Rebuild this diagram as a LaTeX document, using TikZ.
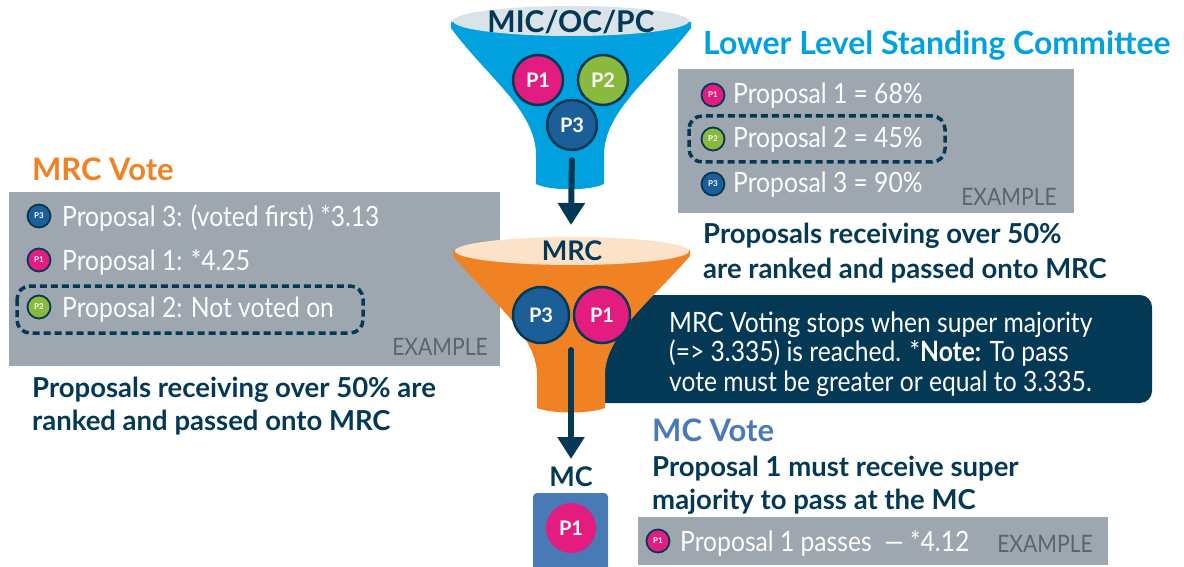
\documentclass[tikz,border=0pt]{standalone}
\usepackage{fontspec}
\setmainfont{Lato}
\newfontfamily\condfont[FakeStretch=0.88]{Lato}
\usetikzlibrary{arrows.meta}

\definecolor{navy}{RGB}{4,57,86}
\definecolor{skyblue}{RGB}{0,161,222}
\definecolor{rimgray}{RGB}{218,227,233}
\definecolor{funorange}{RGB}{240,130,36}
\definecolor{peach}{RGB}{253,226,202}
\definecolor{pmagenta}{RGB}{227,28,127}
\definecolor{pgreen}{RGB}{137,186,62}
\definecolor{pblue}{RGB}{27,94,152}
\definecolor{boxgray}{RGB}{158,166,175}
\definecolor{exgray}{RGB}{92,100,110}
\definecolor{steel}{RGB}{72,122,182}

\begin{document}
\begin{tikzpicture}[x=1pt,y=-1pt,
  pbig/.style={circle,draw=navy,line width=2.5pt,minimum size=50pt,inner sep=0pt,text=white,font=\fontsize{20}{20}\selectfont\bfseries},
  picon/.style={circle,draw=navy,line width=1.8pt,minimum size=23pt,inner sep=0pt,text=white,font=\fontsize{8}{8}\selectfont\bfseries},
  heading/.style={font=\fontsize{31}{31}\selectfont\bfseries,inner sep=0pt},
  bodytext/.style={text=white,font=\condfont\fontsize{28}{28}\selectfont,anchor=base west,inner sep=0pt},
  navytext/.style={text=navy,font=\fontsize{27.5}{33}\selectfont\bfseries,align=left,anchor=base west,inner sep=0pt},
  sample/.style={text=exgray,font=\condfont\fontsize{24}{24}\selectfont,anchor=base east,inner sep=0pt},
  bigarrow/.style={navy,line width=6pt,line cap=round,-{Triangle[width=26pt,length=22pt]}},
  hilite/.style={draw=navy,line width=3.5pt,dash pattern=on 7pt off 4pt,rounded corners=13pt}]
\useasboundingbox (0,0) rectangle (1184,567);

% gray example boxes
\fill[boxgray] (678,69) rectangle (1074,213);
\fill[boxgray] (9,192) rectangle (500,366);
\fill[boxgray] (638,517) rectangle (1108,565);

% note box (behind the MRC funnel)
\fill[navy,rounded corners=12pt] (590,295) rectangle (1152,403);

% top funnel
\fill[skyblue] (451,22) -- (451,28) .. controls (485,75) and (536,110) .. (536,155) -- (536,184)
  .. controls (550,191) and (590,191) .. (604,184) -- (604,155)
  .. controls (604,110) and (655,75) .. (691,28) -- (691,22) -- cycle;
\fill[rimgray] (571,21) ellipse [x radius=118, y radius=15];
\node[heading,text=navy,font=\fontsize{30}{30}\selectfont\bfseries] (mic) at (571,22) {MIC/OC/PC};

% MRC funnel
\fill[funorange] (453,250) -- (453,256) .. controls (490,300) and (537,335) .. (537,375) -- (537,408)
  .. controls (552,414) and (590,414) .. (605,408) -- (605,375)
  .. controls (605,335) and (652,300) .. (690,256) -- (690,250) -- cycle;
\fill[peach] (572,251) ellipse [x radius=117, y radius=14];
\node[heading,text=navy,font=\fontsize{27}{27}\selectfont\bfseries] (mrc) at (572,251) {MRC};

% proposals in the funnels
\node[pbig,fill=pmagenta] (p1a) at (538,80) {P1};
\node[pbig,fill=pgreen] (p2a) at (603,80) {P2};
\node[pbig,fill=pblue] (p3a) at (572,125) {P3};
\node[pbig,fill=pblue,minimum size=56pt] (p3b) at (541,315) {P3};
\node[pbig,fill=pmagenta,minimum size=56pt] (p1b) at (602,315) {P1};

% MC
\node[heading,text=navy,font=\fontsize{27}{27}\selectfont\bfseries] (mc) at (571,477) {MC};
\fill[steel,rounded corners=4pt] (533,493) rectangle (608,580);
\node[circle,fill=pmagenta,minimum size=50pt,inner sep=0pt,text=white,font=\fontsize{20}{20}\selectfont\bfseries] (p1c) at (571,528) {P1};

% arrows
\coordinate (tip1) at (571,225);
\coordinate (start2) at (571,350);
\coordinate (tip2) at (571,459);
\draw[bigarrow,shorten <=9pt] (p3a.south) -- (tip1);
\draw[bigarrow] (start2) -- (tip2);

% Lower Level Standing Committee
\node[heading,text=skyblue,anchor=base west,font=\fontsize{32}{32}\selectfont\bfseries] (llsc) at (703,55) {Lower Level Standing Committee};
\node[picon,fill=pmagenta] (i1r) at (713,95) {P1};
\node[picon,fill=pgreen] (i2r) at (713,139) {P2};
\node[picon,fill=pblue] (i3r) at (713,184) {P3};
\node[bodytext] (t1r) at (733,104) {Proposal 1 = 68\%};
\node[bodytext] (t2r) at (733,148) {Proposal 2 = 45\%};
\node[bodytext] (t3r) at (733,193) {Proposal 3 = 90\%};
\draw[hilite] (689,116) rectangle (945,162);
\node[sample] (exr) at (1057,205) {EXAMPLE};
\node[navytext,font=\fontsize{27.5}{35}\selectfont\bfseries] (passr) at (703,278) {Proposals receiving over 50\%\\are ranked and passed onto MRC};

% MRC Vote
\node[heading,text=funorange,anchor=base west] (mrcvote) at (32,181) {MRC Vote};
\node[picon,fill=pblue] (i3l) at (39,216) {P3};
\node[picon,fill=pmagenta] (i1l) at (39,260) {P1};
\node[picon,fill=pgreen] (i2l) at (39,307) {P2};
\node[bodytext] (t3l) at (62,226) {Proposal 3: (voted first) *3.13};
\node[bodytext] (t1l) at (62,270) {Proposal 1: *4.25};
\node[bodytext] (t2l) at (62,317) {Proposal 2: Not voted on};
\draw[hilite] (17,286) rectangle (363,333);
\node[sample] (exl) at (488,355) {EXAMPLE};
\node[navytext] (passl) at (32,430) {Proposals receiving over 50\% are\\ranked and passed onto MRC};

% note
\node[bodytext,align=left,font=\condfont\fontsize{28}{29.5}\selectfont] (note) at (669,391)
  {MRC Voting stops when super majority\\(=> 3.335) is reached. *\textbf{Note:} To pass\\vote must be greater or equal to 3.335.};

% MC Vote
\node[heading,text=steel,anchor=base west] (mcvote) at (652,441) {MC Vote};
\node[navytext] (passmc) at (652,509) {Proposal 1 must receive super\\majority to pass at the MC};
\node[picon,fill=pmagenta] (i1m) at (658,541) {P1};
\node[bodytext] (t1m) at (680,551) {Proposal 1 passes\ \ — *4.12};
\node[sample] (exm) at (1093,552) {EXAMPLE};
\end{tikzpicture}
\end{document}
